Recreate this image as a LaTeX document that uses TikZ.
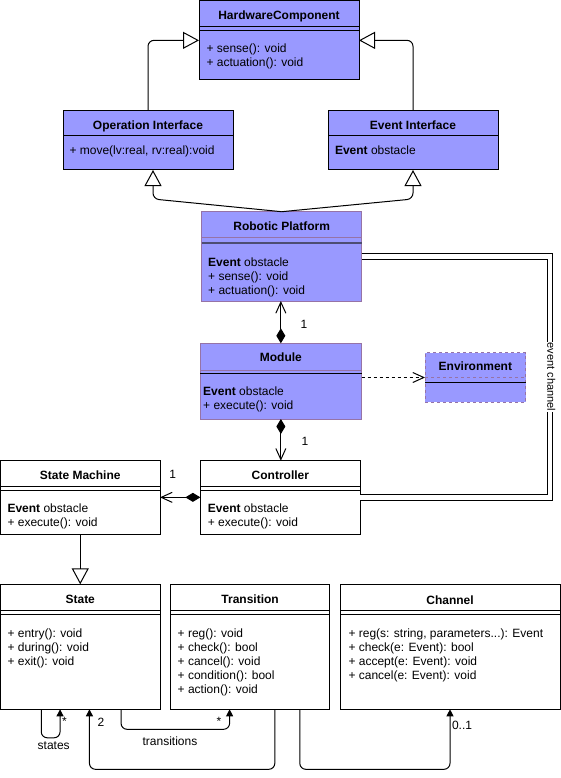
\documentclass[tikz,border=0pt]{standalone}
\usepackage{fontspec}
\setmainfont{Liberation Sans}
\usetikzlibrary{arrows.meta,positioning}

\definecolor{classfill}{HTML}{9999FF}
\definecolor{classedge}{HTML}{9673A6}
\definecolor{sepdark}{HTML}{4D4D73}

\tikzset{
  cls/.style={draw, inner sep=0pt, outer sep=0pt, anchor=north west},
  clsname/.style={anchor=base, inner sep=0pt, font=\fontsize{12}{14}\selectfont\bfseries},
  clsbody/.style={anchor=north west, inner sep=0pt, align=left, font=\fontsize{12}{14}\selectfont},
  lbl/.style={inner sep=0pt, font=\fontsize{12}{14}\selectfont},
  gen/.style={-{Triangle[open, length=16pt, width=17pt]}, rounded corners=6pt},
  comp/.style={{Diamond[length=15pt, width=9pt]}-{Straight Barb[length=11pt, width=10pt]}},
  assoc/.style={-{Triangle[length=7pt, width=7pt]}, rounded corners=6pt},
}

\begin{document}
\begin{tikzpicture}[x=1pt, y=-1pt, line width=1pt]
    \useasboundingbox (0,0) rectangle (561,778);

    % class boxes
    \node (hw) [cls, fill=classfill, minimum width=160pt, minimum height=79.3pt] at (199,0.7) {};
    \node (op) [cls, fill=classfill, minimum width=170pt, minimum height=59.3pt] at (63,110.7) {};
    \node (ev) [cls, fill=classfill, minimum width=170pt, minimum height=59.3pt] at (328,110.7) {};
    \node (rp) [cls, fill=classfill, draw=classedge, minimum width=160pt, minimum height=89.3pt] at (201.7,211.7) {};
    \node (mod) [cls, fill=classfill, draw=classedge, minimum width=161.7pt, minimum height=75.7pt] at (200,343.3) {};
    \node (env) [cls, fill=classfill, draw=classedge, dash pattern=on 3pt off 3pt, minimum width=100.7pt, minimum height=49.6pt] at (425,352.7) {};
    \node (ctl) [cls, minimum width=160pt, minimum height=73.3pt] at (200.4,460.7) {};
    \node (sm) [cls, minimum width=159.5pt, minimum height=73.3pt] at (0.5,460.7) {};
    \node (st) [cls, minimum width=159.5pt, minimum height=125pt] at (0.5,584.3) {};
    \node (tr) [cls, minimum width=158.8pt, minimum height=125pt] at (170.7,584.3) {};
    \node (ch) [cls, minimum width=220pt, minimum height=125pt] at (340,584.3) {};

    % header separators
    \foreach \c in {hw,ctl,sm,st,tr,ch}
      \draw ([yshift=-26pt]\c.north west) -- ([yshift=-26pt]\c.north east)
            ([yshift=-30pt]\c.north west) -- ([yshift=-30pt]\c.north east);
    \foreach \c in {op,ev}
      \draw ([yshift=-25.3pt]\c.north west) -- ([yshift=-25.3pt]\c.north east);
    \draw[classedge] ([yshift=-26pt]rp.north west) -- ([yshift=-26pt]rp.north east);
    \draw[sepdark, line width=2pt] ([yshift=-31pt]rp.north west) -- ([yshift=-31pt]rp.north east);
    \draw[classedge] ([yshift=-26.7pt]mod.north west) -- ([yshift=-26.7pt]mod.north east);
    \draw ([yshift=-30pt]mod.north west) -- ([yshift=-30pt]mod.north east);
    \draw[classedge, dash pattern=on 3pt off 3pt] ([yshift=-25pt]env.north west) -- ([yshift=-25pt]env.north east);
    \draw ([yshift=-29.6pt]env.north west) -- ([yshift=-29.6pt]env.north east);

    % class names
    \node (hwt) [clsname, at=(hw.north), yshift=-18.6pt] {HardwareComponent};
    \node (opt) [clsname, at=(op.north), yshift=-18.6pt] {Operation Interface};
    \node (evt) [clsname, at=(ev.north), yshift=-18.6pt] {Event Interface};
    \node (rpt) [clsname, at=(rp.north), yshift=-18.6pt] {Robotic Platform};
    \node (modt) [clsname, at=(mod.north), yshift=-18.3pt] {Module};
    \node (envt) [clsname, at=(env.north), yshift=-17.6pt] {Environment};
    \node (ctlt) [clsname, at=(ctl.north), yshift=-18.6pt] {Controller};
    \node (smt) [clsname, at=(sm.north), yshift=-18.6pt] {State Machine};
    \node (stt) [clsname, at=(st.north), yshift=-19pt] {State};
    \node (trt) [clsname, at=(tr.north), yshift=-19pt] {Transition};
    \node (cht) [clsname, at=(ch.north), yshift=-19.8pt] {Channel};

    % members
    \node (hwb) [clsbody, at=(hw.north west), xshift=7pt, yshift=-43pt] {+ sense(): void\\+ actuation(): void};
    \node (opb) [clsbody, at=(op.north west), xshift=6pt, yshift=-35pt] {+ move(lv:real, rv:real):void};
    \node (evb) [clsbody, at=(ev.north west), xshift=6.5pt, yshift=-35pt] {\textbf{Event} obstacle};
    \node (rpb) [clsbody, at=(rp.north west), xshift=6pt, yshift=-46pt] {\textbf{Event} obstacle\\+ sense(): void\\+ actuation(): void};
    \node (modb) [clsbody, at=(mod.north west), xshift=2.7pt, yshift=-43pt] {\textbf{Event} obstacle\\+ execute(): void};
    \node (ctlb) [clsbody, at=(ctl.north west), xshift=7pt, yshift=-43pt] {\textbf{Event} obstacle\\+ execute(): void};
    \node (smb) [clsbody, at=(sm.north west), xshift=6.5pt, yshift=-43pt] {\textbf{Event} obstacle\\+ execute(): void};
    \node (stb) [clsbody, at=(st.north west), xshift=6.5pt, yshift=-44pt] {+ entry(): void\\+ during(): void\\+ exit(): void};
    \node (trb) [clsbody, at=(tr.north west), xshift=6.5pt, yshift=-44pt] {+ reg(): void\\+ check(): bool\\+ cancel(): void\\+ condition(): bool\\+ action(): void};
    \node (chb) [clsbody, at=(ch.north west), xshift=8pt, yshift=-44pt] {+ reg(s: string, parameters...): Event\\+ check(e: Event): bool\\+ accept(e: Event): void\\+ cancel(e: Event): void};

    % generalisations
    \draw[gen] (op.north) |- (hw.west);
    \draw[gen] (ev.north) |- (hw.east);
    \draw[gen] (rp.north) -- (153,199) -- ([xshift=5pt]op.south);
    \draw[gen] (rp.north) -- (413,199) -- (ev.south);
    \draw[gen] (sm.south) -- (st.north);

    % compositions
    \draw[comp] (mod.north) -- (mod.north |- rp.south);
    \draw[comp] (mod.south) -- (mod.south |- ctl.north);
    \draw[comp] (ctl.west) -- (sm.east);
    \draw[dash pattern=on 3pt off 3pt, -{Straight Barb[length=11pt, width=10pt]}] (mod.east |- env.west) -- (env.west);

    % event channel
    \coordinate (ec) at (550,378);
    \draw[double, double distance=4.4pt] (rp.east) -| (ec) |- (ctl.east);
    \node (ecl) [lbl, rotate=-90, fill=white, inner sep=1pt, font=\fontsize{11}{13}\selectfont] at (551.3,377) {event channel};

    % associations
    \draw[assoc] ([xshift=-39pt]st.south) -- ++(0,28.5) -| ([xshift=-20.2pt]st.south);
    \draw[assoc] ([xshift=40.8pt]st.south) -- ++(0,20) -| ([xshift=-20.5pt]tr.south);
    \draw[assoc] ([xshift=24.7pt]tr.south) -- ++(0,60) -| ([xshift=9.2pt]st.south);
    \draw[assoc] ([xshift=49.7pt]tr.south) -- ++(0,60) -| (ch.south);

    % multiplicities and roles
    \node (m1) [lbl] at (304,324.3) {1};
    \node (m2) [lbl] at (305,441.7) {1};
    \node (m3) [lbl] at (172.8,474) {1};
    \node (s1) [lbl] at (64.5,721.7) {*};
    \node (lst) [lbl] at (53.7,745.7) {states};
    \node (s2) [lbl] at (219,721.7) {*};
    \node (ltr) [lbl] at (170,741.7) {transitions};
    \node (n2) [lbl] at (100.9,722.7) {2};
    \node (n01) [lbl, anchor=west] at (451.5,725) {0..1};
\end{tikzpicture}
\end{document}
